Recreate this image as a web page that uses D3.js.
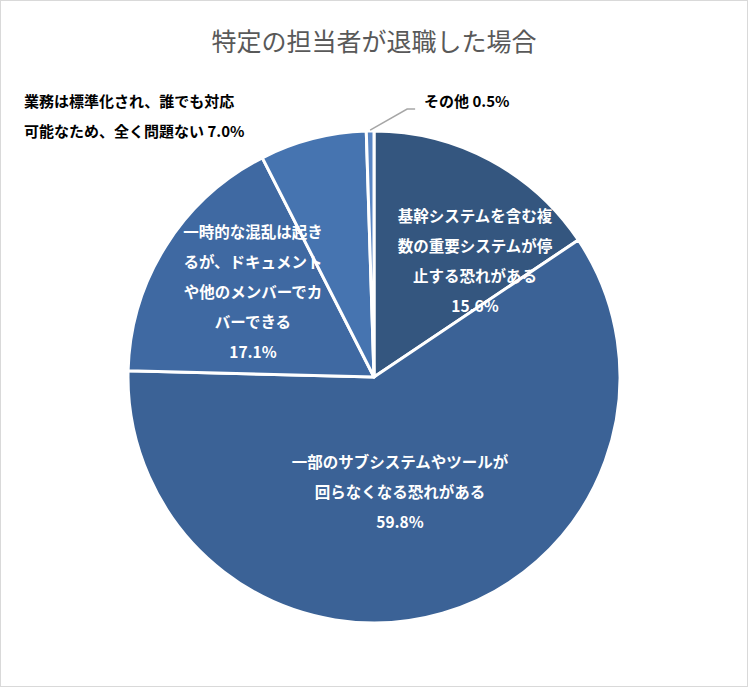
<!DOCTYPE html><html><head><meta charset="utf-8"><script src="https://cdn.jsdelivr.net/npm/d3@7"></script>
<style>body{margin:0;background:#fff}text{font-family:"Noto Sans CJK JP",sans-serif}</style></head><body>
<svg id="c" width="748" height="687"></svg>
<script>
const categories=["基幹システムを含む複数の重要システムが停止する恐れがある","一部のサブシステムやツールが回らなくなる恐れがある","一時的な混乱は起きるが、ドキュメントや他のメンバーでカバーできる","業務は標準化され、誰でも対応可能なため、全く問題ない","その他"];
const values=[15.6,59.8,17.1,7.0,0.5];
const labelLines=[["基幹システムを含む複","数の重要システムが停","止する恐れがある","15.6%"],["一部のサブシステムやツールが","回らなくなる恐れがある","59.8%"],["一時的な混乱は起き","るが、ドキュメント","や他のメンバーでカ","バーできる","17.1%"],["業務は標準化され、誰でも対応","可能なため、全く問題ない 7.0%"],["その他 0.5%"]];
const colors=["#34567f","#3b6296","#3f69a2","#4674b0","#5a86c4"];
const svg=d3.select("#c");
svg.append("rect").attr("x",0.5).attr("y",0.5).attr("width",747).attr("height",686).attr("fill","#fff").attr("stroke","#d9d9d9");
svg.append("text").attr("x",374).attr("y",51).attr("text-anchor","middle").attr("font-size",25).attr("fill","#595959").text("特定の担当者が退職した場合");
const cx=374,cy=377,R=246;
const g=svg.append("g").attr("transform",`translate(${cx},${cy})`);
const pie=d3.pie().sort(null).value(d=>d);
const arcs=pie(values);
const arc=d3.arc().innerRadius(0).outerRadius(R);
g.selectAll("path").data(arcs).join("path").attr("d",arc).attr("fill",(d,i)=>colors[i]).attr("stroke","#fff").attr("stroke-width",3).attr("stroke-linejoin","round");
// label placement
const inner=[{i:0,x:475,y:222,lh:30},{i:1,x:400,y:468,lh:30},{i:2,x:253,y:238,lh:30}];
inner.forEach(o=>{const t=svg.append("text").attr("text-anchor","middle").attr("font-size",15.5).attr("font-weight","bold").attr("fill","#fff");
labelLines[o.i].forEach((l,k)=>t.append("tspan").attr("x",o.x).attr("y",o.y+k*o.lh).text(l));});
const t4=svg.append("text").attr("font-size",15).attr("font-weight","bold").attr("fill","#000");
labelLines[3].forEach((l,k)=>t4.append("tspan").attr("x",24).attr("y",107+k*30).text(l));
// other leader
const a5=arcs[4],m=(a5.startAngle+a5.endAngle)/2;
const px=cx+Math.sin(m)*(R+1),py=cy-Math.cos(m)*(R+1);
svg.append("path").attr("d",`M${px},${py}L${px+37},${py-21}L${px+45},${py-21}`).attr("fill","none").attr("stroke","#a6a6a6").attr("stroke-width",1.5);
svg.append("text").attr("x",424).attr("y",107).attr("font-size",15).attr("font-weight","bold").attr("fill","#000").text(labelLines[4][0]);
</script></body></html>
